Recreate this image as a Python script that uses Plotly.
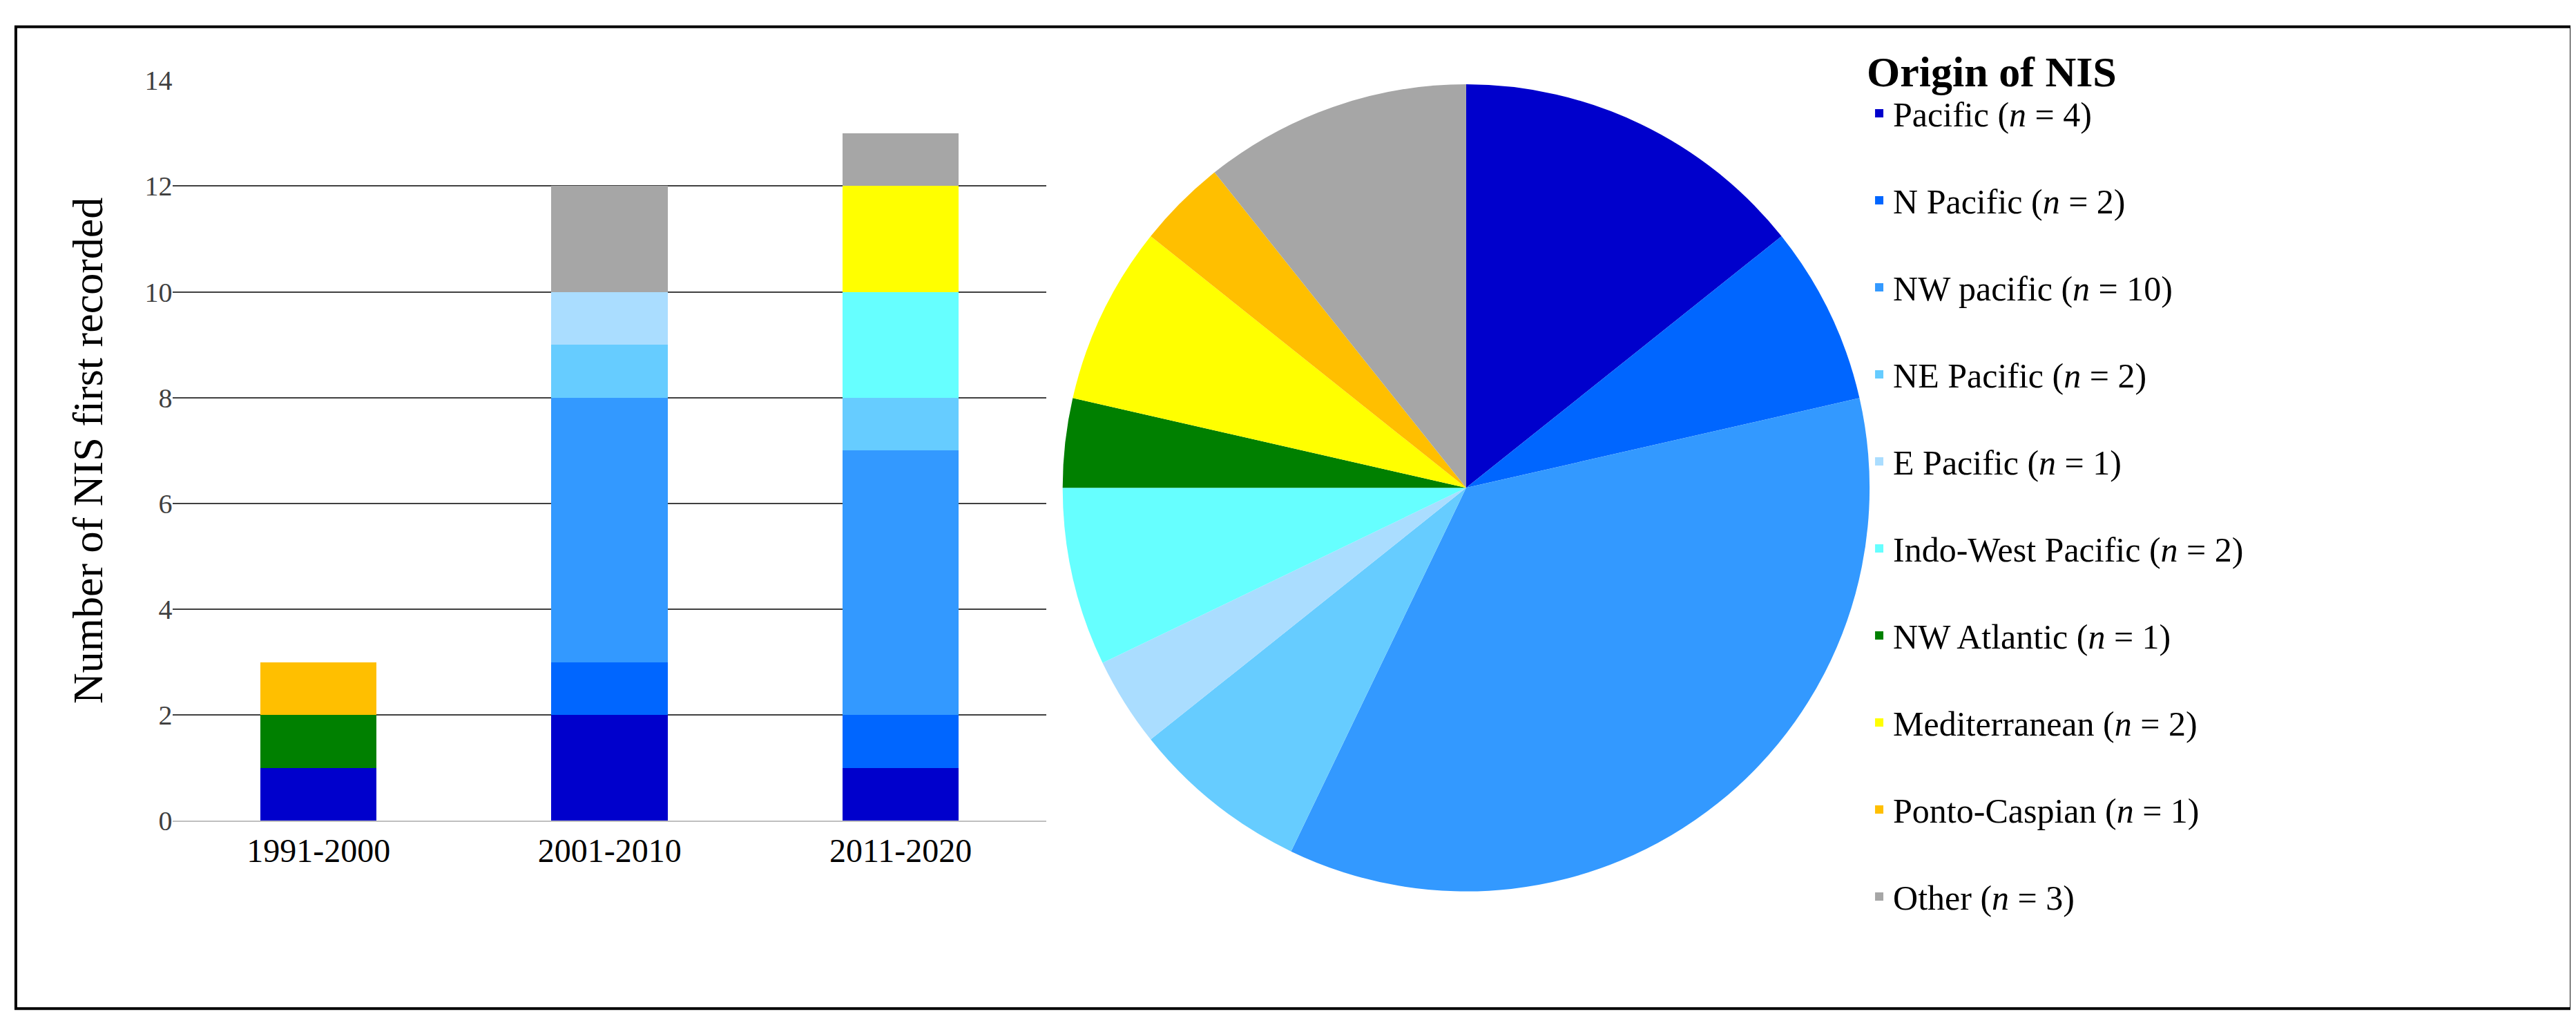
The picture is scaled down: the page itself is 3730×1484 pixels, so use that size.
import plotly.graph_objects as go

periods = ["1991-2000", "2001-2010", "2011-2020"]
origins = ["Pacific", "N Pacific", "NW pacific", "NE Pacific", "E Pacific",
           "Indo-West Pacific", "NW Atlantic", "Mediterranean", "Ponto-Caspian", "Other"]
colors = ["#0000CC", "#0066FF", "#3399FF", "#66CCFF", "#AADDFF",
          "#66FFFF", "#008000", "#FFFF00", "#FFBF00", "#A6A6A6"]
counts = {
    "Pacific": [1, 2, 1],
    "N Pacific": [0, 1, 1],
    "NW pacific": [0, 5, 5],
    "NE Pacific": [0, 1, 1],
    "E Pacific": [0, 1, 0],
    "Indo-West Pacific": [0, 0, 2],
    "NW Atlantic": [1, 0, 0],
    "Mediterranean": [0, 0, 2],
    "Ponto-Caspian": [1, 0, 0],
    "Other": [0, 2, 1],
}
totals = [sum(counts[o]) for o in origins]

FONT = "Liberation Serif"
fig = go.Figure()
for o, c, n in zip(origins, colors, totals):
    fig.add_trace(go.Bar(x=periods, y=counts[o], marker_color=c, marker_line_width=0,
                         name=f"{o} (<i>n</i> = {n})", legendgroup=o))
fig.add_trace(go.Pie(values=totals, labels=origins, marker=dict(colors=colors),
                     sort=False, direction="clockwise", rotation=0, textinfo="none",
                     showlegend=False, domain=dict(x=[0.405, 0.729], y=[0.124, 0.936]),
                     hoverinfo="label+value"))
fig.update_layout(
    width=3730, height=1484, barmode="stack", bargap=0.6,
    paper_bgcolor="white", plot_bgcolor="white",
    margin=dict(l=0, r=0, t=0, b=0),
    font=dict(family=FONT, color="black"),
    xaxis=dict(domain=[0.065, 0.404], showline=True, linecolor="#BFBFBF", linewidth=2,
               tickfont=dict(size=48), ticks=""),
    yaxis=dict(domain=[0.195, 0.94], range=[0, 14], dtick=2, showgrid=True,
               gridcolor="#404040", gridwidth=2, zeroline=False, showline=False,
               tickfont=dict(size=40, color="#404040"),
               title=dict(text="Number of NIS first recorded", font=dict(size=62), standoff=40)),
    legend=dict(x=0.722, y=0.99, xanchor="left", yanchor="top", traceorder="grouped",
                tracegroupgap=58, font=dict(size=50),
                title=dict(text="<b>Origin of NIS</b>", font=dict(size=62)),
                itemwidth=30, bgcolor="rgba(0,0,0,0)"),
    shapes=[dict(type="rect", xref="paper", yref="paper", x0=0.004, x1=0.996, y0=0.006, y1=0.994,
                 line=dict(color="black", width=4))],
)
fig.write_html("out.html")
